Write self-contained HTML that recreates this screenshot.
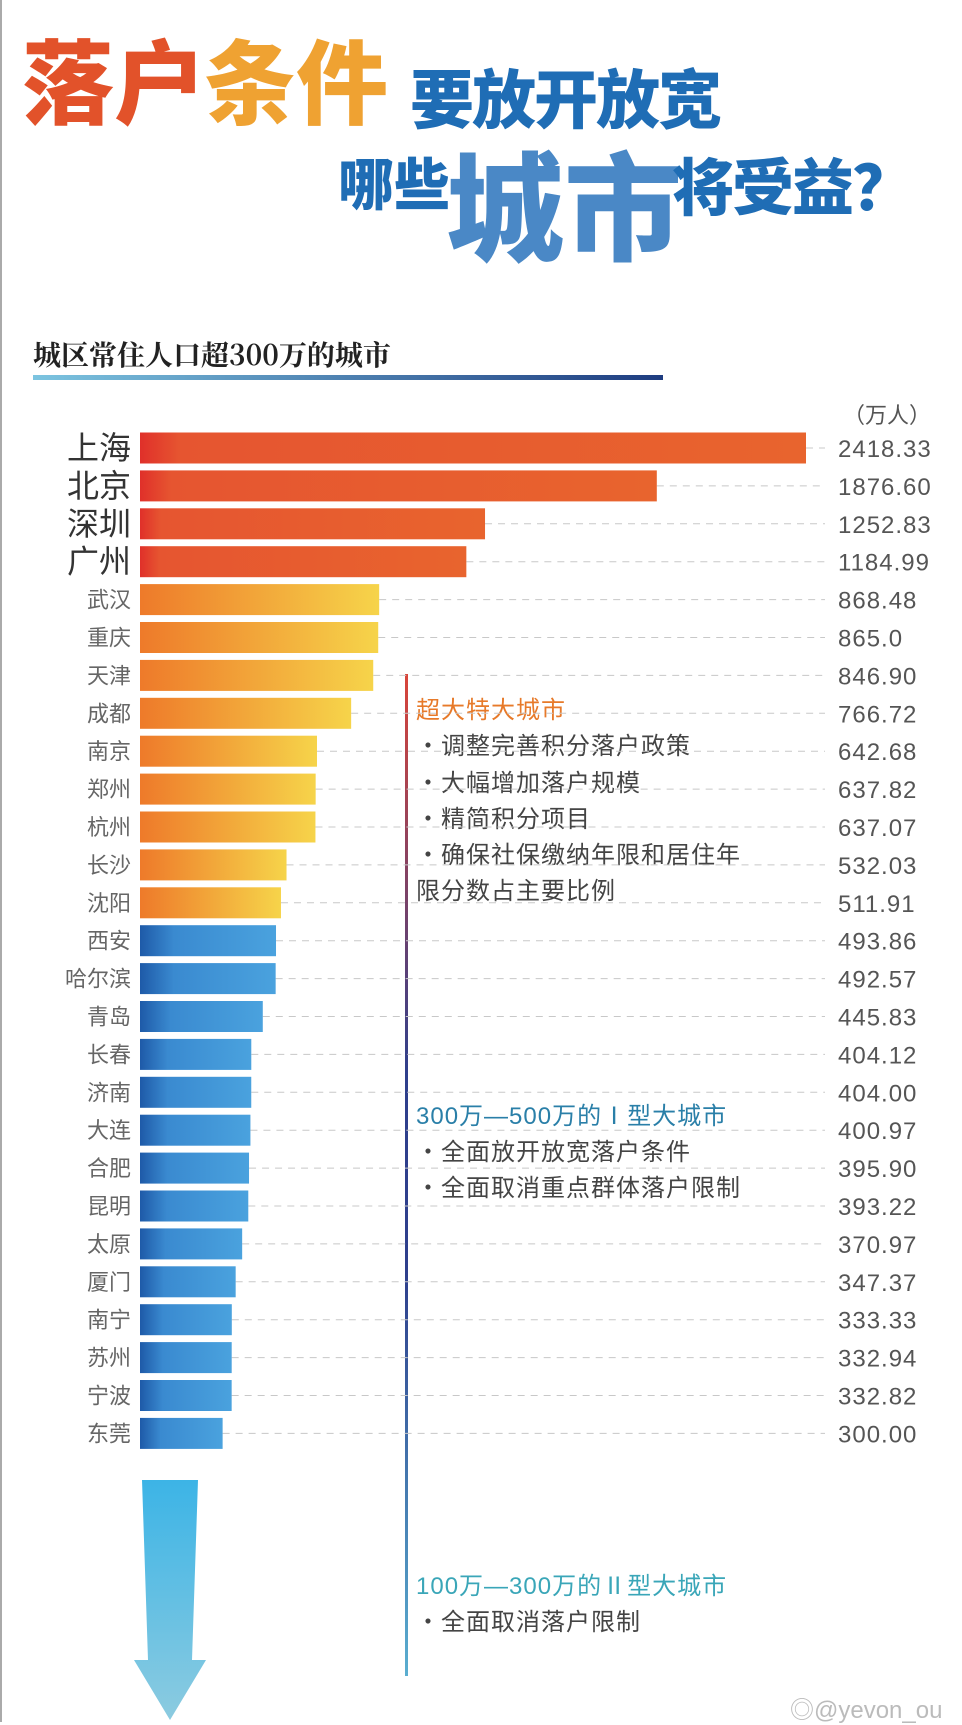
<!DOCTYPE html>
<html><head><meta charset="utf-8"><style>
body{margin:0;width:962px;height:1722px;background:#fff;position:relative;overflow:hidden;font-family:"Liberation Sans","Noto Sans CJK SC",sans-serif;}
.abs{position:absolute;white-space:nowrap;}
.t{font-family:"Noto Sans CJK SC","WenQuanYi Zen Hei",sans-serif;font-weight:900;line-height:1;}
.note{position:absolute;left:416px;font-size:24px;color:#444;font-family:"Liberation Sans","Noto Sans CJK SC",sans-serif;letter-spacing:1px;white-space:nowrap;line-height:1;}
</style></head><body>
<div class="abs" style="left:0;top:0;width:2px;height:1722px;background:#aaa"></div>
<div class="abs t" style="left:22px;top:32px;font-size:92px;color:#e2522a">落户</div>
<div class="abs t" style="left:204px;top:32px;font-size:92px;color:#efa232">条件</div>
<div class="abs t" style="left:410px;top:64px;font-size:64px;color:#1f6db5;letter-spacing:-2px">要放开放宽</div>
<div class="abs t" style="left:338px;top:154px;font-size:56px;color:#1f6db5">哪些</div>
<div class="abs t" style="left:446px;top:142px;font-size:118px;color:#4a88c6">城市</div>
<div class="abs t" style="left:672px;top:152px;font-size:62px;color:#1f6db5;letter-spacing:-2px">将受益？</div>
<div class="abs" style="left:33px;top:340px;font-size:28px;font-weight:bold;color:#222;font-family:'Noto Serif CJK SC',serif;line-height:1">城区常住人口超300万的城市</div>
<div class="abs" style="left:33px;top:375px;width:630px;height:5px;background:linear-gradient(90deg,#7cc4e0,#1e3c80)"></div>
<div class="abs" style="left:843px;top:398px;font-size:22px;color:#555">（万人）</div>
<div class="abs" style="left:405px;top:674px;width:3px;height:1002px;background:linear-gradient(180deg,#d9453a,#2e3f8c 40%,#2e3f8c 60%,#5aaed0)"></div>
<div class="note" style="top:699px;color:#e77a2a">超大特大城市</div>
<div class="note" style="top:735px">・调整完善积分落户政策</div>
<div class="note" style="top:772px">・大幅增加落户规模</div>
<div class="note" style="top:808px">・精简积分项目</div>
<div class="note" style="top:844px">・确保社保缴纳年限和居住年</div>
<div class="note" style="top:880px">限分数占主要比例</div>
<div class="note" style="top:1105px;color:#2a7fa8">300万—500万的Ⅰ型大城市</div>
<div class="note" style="top:1141px">・全面放开放宽落户条件</div>
<div class="note" style="top:1177px">・全面取消重点群体落户限制</div>
<div class="note" style="top:1575px;color:#3aa6b8">100万—300万的Ⅱ型大城市</div>
<div class="note" style="top:1611px">・全面取消落户限制</div>
<svg class="abs" style="left:134px;top:1480px" width="72" height="240">
<defs><linearGradient id="ag" x1="0" y1="0" x2="0" y2="1"><stop offset="0" stop-color="#3cb4e6"/><stop offset="1" stop-color="#8ccbe0"/></linearGradient></defs>
<polygon points="8,0 64,0 58,180 72,180 36,240 0,180 14,180" fill="url(#ag)"/></svg>
<div class="abs" style="left:790px;top:1690px;font-size:24px;color:#bbb">◎@yevon_ou</div>
<svg id="chart" class="abs" style="left:0;top:0" width="962" height="1722"></svg>
<script>
const cities=["上海","北京","深圳","广州","武汉","重庆","天津","成都","南京","郑州","杭州","长沙","沈阳","西安","哈尔滨","青岛","长春","济南","大连","合肥","昆明","太原","厦门","南宁","苏州","宁波","东莞"];
const values=[2418.33,1876.60,1252.83,1184.99,868.48,865.0,846.90,766.72,642.68,637.82,637.07,532.03,511.91,493.86,492.57,445.83,404.12,404.00,400.97,395.90,393.22,370.97,347.37,333.33,332.94,332.82,300.00];
const labels=["2418.33","1876.60","1252.83","1184.99","868.48","865.0","846.90","766.72","642.68","637.82","637.07","532.03","511.91","493.86","492.57","445.83","404.12","404.00","400.97","395.90","393.22","370.97","347.37","333.33","332.94","332.82","300.00"];
const tiers=[0,0,0,0,1,1,1,1,1,1,1,1,1,2,2,2,2,2,2,2,2,2,2,2,2,2,2];
const NS="http://www.w3.org/2000/svg";
const svg=document.getElementById('chart');
const x0=140,xs=(806-140)/2418.33;
const xScale=v=>x0+v*xs;
const yScale=i=>448+i*37.9;
const bh=31;
const defs=document.createElementNS(NS,'defs');
defs.innerHTML='<linearGradient id="g0" x1="0" x2="1"><stop offset="0" stop-color="#e0302a"/><stop offset="0.06" stop-color="#e65530"/><stop offset="1" stop-color="#e8642e"/></linearGradient>'+
'<linearGradient id="g1" x1="0" x2="1"><stop offset="0" stop-color="#ee7a2a"/><stop offset="1" stop-color="#f6d44a"/></linearGradient>'+
'<linearGradient id="g2" x1="0" x2="1"><stop offset="0" stop-color="#1e5aa8"/><stop offset="0.25" stop-color="#3a8ad0"/><stop offset="1" stop-color="#4aa2de"/></linearGradient>';
svg.appendChild(defs);
cities.forEach((c,i)=>{
  const y=yScale(i),xe=xScale(values[i]);
  const ln=document.createElementNS(NS,'line');
  ln.setAttribute('x1',xe);ln.setAttribute('x2',825);ln.setAttribute('y1',y);ln.setAttribute('y2',y);
  ln.setAttribute('stroke','#c8c8c8');ln.setAttribute('stroke-dasharray','7 6');ln.setAttribute('stroke-width','1');
  
  
  svg.appendChild(ln);
  const r=document.createElementNS(NS,'rect');
  r.setAttribute('x',x0);r.setAttribute('y',y-bh/2);r.setAttribute('width',xe-x0);r.setAttribute('height',bh);
  r.setAttribute('fill','url(#g'+tiers[i]+')');
  
  
  svg.appendChild(r);
  const t=document.createElementNS(NS,'text');
  t.setAttribute('x',131);t.setAttribute('text-anchor','end');
  const big=i<4;
  t.setAttribute('y',y+(big?11:8));
  t.setAttribute('font-size',big?32:22);
  t.setAttribute('fill',big?'#333':'#666');
  t.setAttribute('font-family','"Noto Sans CJK SC",sans-serif');
  t.textContent=c;
  
  
  svg.appendChild(t);
  const v=document.createElementNS(NS,'text');
  v.setAttribute('x',838);v.setAttribute('y',y+9);
  v.setAttribute('font-size',24);v.setAttribute('fill','#555');
  v.setAttribute('font-family','"Liberation Sans Narrow","Liberation Sans",sans-serif');
  v.setAttribute('letter-spacing','1');
  v.textContent=labels[i];
  
  
  svg.appendChild(v);
});
</script>
</body></html>
